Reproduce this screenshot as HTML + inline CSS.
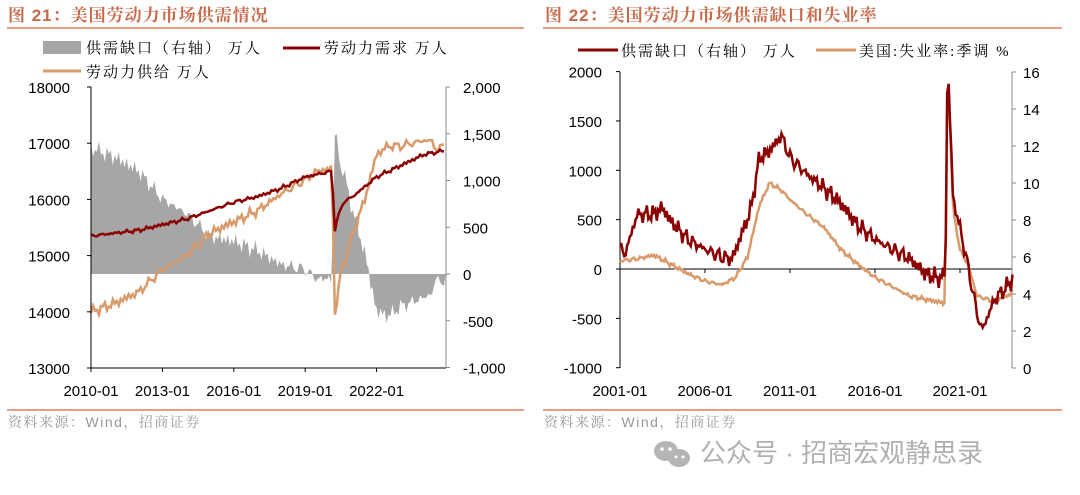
<!DOCTYPE html>
<html><head><meta charset="utf-8"><style>
body{margin:0;background:#fff;width:1080px;height:495px;overflow:hidden;font-family:"Liberation Sans","Noto Sans CJK SC",sans-serif}
svg{position:absolute;left:0;top:0}
.lg{font-family:"Liberation Serif","Noto Serif CJK SC",serif;font-size:15px;letter-spacing:2px}
</style></head><body>
<svg id="s" width="1080" height="495" font-family="Liberation Sans, Noto Sans CJK SC, sans-serif">
<text x="8" y="21" font-size="17" font-weight="bold" fill="#c8694a" font-family="Liberation Sans, Noto Serif CJK SC, serif" letter-spacing="1">图 21：美国劳动力市场供需情况</text>
<line x1="7" y1="28" x2="524" y2="28" stroke="#d9825f" stroke-width="1.5"/>
<text x="545" y="21" font-size="17" font-weight="bold" fill="#c8694a" font-family="Liberation Sans, Noto Serif CJK SC, serif" letter-spacing="1">图 22：美国劳动力市场供需缺口和失业率</text>
<line x1="543" y1="28" x2="1062" y2="28" stroke="#d9825f" stroke-width="1.5"/>
<line x1="7" y1="410" x2="524" y2="410" stroke="#d9825f" stroke-width="1.5"/>
<line x1="543" y1="410" x2="1062" y2="410" stroke="#d9825f" stroke-width="1.5"/>
<text x="8" y="427" font-size="14" fill="#999" font-family="Liberation Sans, Noto Serif CJK SC, serif" letter-spacing="1.5">资料来源：Wind，招商证券</text>
<text x="544" y="427" font-size="14" fill="#999" font-family="Liberation Sans, Noto Serif CJK SC, serif" letter-spacing="1.5">资料来源：Wind，招商证券</text>
<g fill="#b5b5b5"><ellipse cx="666" cy="451" rx="12" ry="10"/><ellipse cx="679" cy="458" rx="11" ry="9"/></g>
<g fill="#fff"><circle cx="662" cy="449" r="1.8"/><circle cx="670" cy="449" r="1.8"/><circle cx="676" cy="457" r="1.5"/><circle cx="683" cy="457" r="1.5"/></g>
<text x="700" y="462" font-size="26" fill="#b0b0b0">公众号 · 招商宏观静思录</text>
<rect x="43" y="41" width="38" height="13" fill="#a6a6a6"/>
<text x="86" y="53" class="lg">供需缺口（右轴） 万人</text>
<line x1="283" y1="48" x2="320" y2="48" stroke="#8b0000" stroke-width="3"/>
<text x="324" y="53" class="lg">劳动力需求 万人</text>
<line x1="43" y1="71" x2="81" y2="71" stroke="#d99a6c" stroke-width="3"/>
<text x="86" y="77" class="lg">劳动力供给 万人</text>
<line x1="578" y1="50" x2="618" y2="50" stroke="#8b0000" stroke-width="3"/>
<text x="621" y="56" class="lg">供需缺口（右轴） 万人</text>
<line x1="816" y1="50" x2="856" y2="50" stroke="#d99a6c" stroke-width="3"/>
<text x="859" y="56" class="lg">美国:失业率:季调 %</text>
<g id="g"></g>
</svg>
<script>
var g=document.getElementById('g'),h='';
function T(x,y,t,a){h+='<text x="'+x+'" y="'+y+'" font-size="15" text-anchor="'+(a||'end')+'">'+t+'</text>';}
function L(a,b,c,d,col,w){h+='<line x1="'+a+'" y1="'+b+'" x2="'+c+'" y2="'+d+'" stroke="'+(col||'#000')+'" stroke-width="'+(w||1)+'"/>';}
function interp(k,t){for(var i=0;i<k.length-1;i++){if(t<=k[i+1][0]){var f=(t-k[i][0])/(k[i+1][0]-k[i][0]);return k[i][1]+f*(k[i+1][1]-k[i][1]);}}return k[k.length-1][1];}
function nz(t,s,a){return a*(Math.sin(t*37.1+s)*0.45+Math.sin(t*91.7+s*2)*0.35+Math.sin(t*13.3+s*3)*0.4);}
var lx0=91,lx1=446,ly=function(v){return 87+(18000-v)*0.0562;},ry=function(v){return 274-v*0.0935;},xt=function(t){return 91+(t-2010)*23.8;};
var D=[[2010,15350],[2011,15400],[2012,15450],[2013,15550],[2014,15650],[2015,15800],[2016,15950],[2017,16050],[2018,16200],[2019,16400],[2020.12,16500],[2020.25,15450],[2020.35,15650],[2020.6,15950],[2021,16050],[2022,16400],[2023,16600],[2024,16800],[2024.9,16870]];
var S=[[2010,14000],[2011,14150],[2012,14350],[2013,14750],[2014,15000],[2015,15400],[2016,15600],[2017,15800],[2018,16100],[2019,16350],[2019.5,16500],[2020.12,16550],[2020.25,13950],[2020.5,14700],[2020.9,15250],[2021.5,16000],[2022,16800],[2022.5,16950],[2023,16950],[2024,17050],[2024.3,17050],[2024.45,16900],[2024.9,16950]];
var pd='',ps='',pg='M'+xt(2010)+' '+ry(0);
for(var t=2010;t<=2024.9;t+=1/12){var d=interp(D,t)+nz(t,1,35),s=interp(S,t)+nz(t,3,90);var x=xt(t).toFixed(1);
pd+=(pd?'L':'M')+x+' '+ly(d).toFixed(1);ps+=(ps?'L':'M')+x+' '+ly(s).toFixed(1);pg+='L'+x+' '+ry((d-s)).toFixed(1);}
pg+='L'+xt(2024.9)+' '+ry(0)+'Z';
h+='<path d="'+pg+'" fill="#a6a6a6"/>';
h+='<path d="'+ps+'" fill="none" stroke="#d99a6c" stroke-width="2.5"/>';
h+='<path d="'+pd+'" fill="none" stroke="#8b0000" stroke-width="2.5"/>';
L(lx0,87,lx0,368,'#000');L(lx0,368,lx1,368,'#000');L(lx1,87,lx1,368,'#888');
for(var v=13000;v<=18000;v+=1000){L(lx0-4,ly(v),lx0,ly(v));T(70,ly(v)+6,v);}
var rl=['-1,000','-500','0','500','1,000','1,500','2,000'];
for(var i=0;i<7;i++){var v=-1000+i*500;L(lx1,ry(v),lx1+4,ry(v),'#888');T(463,ry(v)+6,rl[i],'start');}
[2010,2013,2016,2019,2022].forEach(function(y){T(xt(y),396,y+'-01','middle');L(xt(y),368,xt(y),372);});
var X0=620,X1=1012,gy=function(v){return 269-v*0.0987;},uy=function(v){return 368-v*18.5;},xr=function(t){return 620+(t-2001)*17;};
var G=[[2001,220],[2001.3,150],[2002,550],[2003,560],[2003.5,620],[2004,480],[2005,300],[2006,200],[2007,120],[2007.6,100],[2008.1,330],[2008.7,600],[2009.2,1130],[2009.7,1180],[2010.5,1350],[2011,1130],[2012,960],[2013,820],[2014,660],[2015,440],[2016,300],[2017,200],[2018,110],[2019,-50],[2019.9,-100],[2020.15,0],[2020.25,1830],[2020.34,1830],[2020.6,700],[2021,420],[2021.5,0],[2022,-450],[2022.3,-620],[2023,-320],[2024,-130],[2024.1,-80]];
var U=[[2001,5.8],[2002,5.9],[2003,6.1],[2004,5.6],[2005,5.1],[2006,4.7],[2007,4.5],[2007.8,4.9],[2008.5,6.0],[2009.2,8.8],[2009.8,10],[2010.5,9.6],[2011,9.1],[2012,8.3],[2013,7.6],[2014,6.4],[2015,5.6],[2016,4.9],[2017,4.4],[2018,3.9],[2019,3.7],[2020.12,3.5],[2020.25,14.8],[2020.34,14.8],[2020.6,8.5],[2021,6.4],[2021.5,5.5],[2022,3.9],[2023,3.6],[2024,4.0],[2024.1,4.3]];
var p1='',p2='';
for(var t=2001;t<=2024.1;t+=1/12){var x=xr(t).toFixed(1);var gv=interp(G,t)+nz(t,5,90),uv=interp(U,t)+nz(t,2,0.12);
p1+=(p1?'L':'M')+x+' '+gy(gv).toFixed(1);p2+=(p2?'L':'M')+x+' '+uy(uv).toFixed(1);}
L(X0,72,X0,368,'#000');L(X0,gy(0),X1,gy(0),'#000');L(X1,72,X1,368,'#888');
h+='<path d="'+p2+'" fill="none" stroke="#d99a6c" stroke-width="2.5"/>';
h+='<path d="'+p1+'" fill="none" stroke="#8b0000" stroke-width="2.5"/>';
for(var v=-1000;v<=2000;v+=500){L(X0-4,gy(v),X0,gy(v));T(602,gy(v)+6,v);}
for(var v=0;v<=16;v+=2){L(X1,uy(v),X1+4,uy(v),'#888');T(1023,uy(v)+6,v,'start');}
[2001,2006,2011,2016,2021].forEach(function(y){T(xr(y),396,y+'-01','middle');L(xr(y),269,xr(y),273);});
g.innerHTML=h;
</script>
</body></html>
